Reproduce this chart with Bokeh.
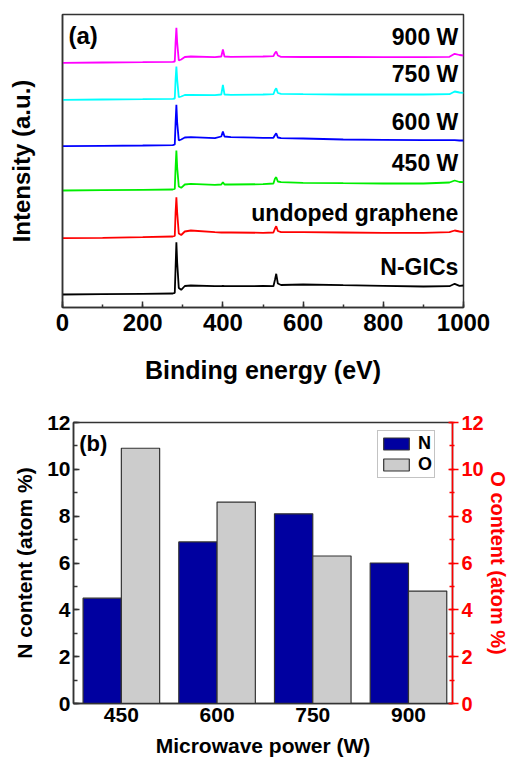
from bokeh.plotting import figure
from bokeh.layouts import column, row
from bokeh.models import (Range1d, LinearAxis, FixedTicker, SingleIntervalTicker,
                          Legend, LegendItem, Label)
from bokeh.embed import file_html
from bokeh.resources import INLINE

FONT = "Liberation Sans"

# ---------------- panel (a): XPS survey spectra ----------------
energy = [0, 100, 200, 275, 280, 282, 284, 286, 290, 296, 305, 320, 380, 396, 400, 404,
          420, 500, 526, 530, 533, 537, 545, 600, 700, 800, 900, 965, 978, 990, 1000]

ngics = [13.0, 13.3, 13.7, 14.0, 14.7, 40.0, 65.3, 45.0, 19.5, 17.7, 21.5, 22.0, 21.3, 21.3, 21.5, 21.3,
         21.3, 21.5, 21.3, 28.0, 33.7, 24.0, 22.5, 23.0, 22.3, 21.7, 21.0, 21.3, 23.7, 21.7, 22.0]
undoped = [69.3, 69.7, 70.3, 71.0, 71.5, 95.0, 110.3, 95.0, 74.0, 72.5, 76.0, 77.0, 75.3, 75.0, 75.0, 75.0,
           75.0, 74.7, 75.0, 79.0, 81.3, 76.5, 75.3, 75.3, 75.0, 74.7, 74.7, 75.3, 77.0, 76.0, 75.3]
w450 = [117.0, 117.3, 117.7, 118.0, 118.5, 140.0, 157.0, 140.0, 121.0, 119.7, 123.0, 123.7, 122.7, 123.0, 125.3, 123.0,
        123.0, 123.3, 124.0, 129.0, 130.3, 126.0, 125.3, 124.7, 124.3, 124.0, 124.0, 125.0, 127.0, 125.5, 125.3]
w600 = [161.3, 161.7, 162.0, 162.3, 163.0, 185.0, 202.7, 185.0, 167.0, 168.0, 170.0, 170.3, 169.3, 171.0, 176.0, 171.0,
        170.3, 169.7, 169.7, 172.5, 174.3, 170.0, 169.3, 169.0, 168.0, 167.7, 167.3, 167.3, 167.3, 167.0, 167.0]
w750 = [207.7, 208.0, 208.3, 208.7, 209.0, 228.0, 241.0, 228.0, 210.3, 211.0, 212.5, 212.7, 212.3, 213.0, 222.7, 213.0,
        212.7, 213.0, 213.3, 217.5, 219.3, 214.5, 213.7, 213.3, 213.0, 213.0, 213.0, 213.3, 216.0, 215.0, 214.7]
w900 = [244.7, 245.0, 245.3, 245.7, 246.0, 265.0, 279.7, 265.0, 247.0, 248.0, 250.5, 251.0, 250.3, 251.0, 258.0, 251.0,
        250.7, 251.0, 251.3, 254.5, 256.0, 252.0, 250.7, 250.5, 250.7, 250.3, 250.3, 250.7, 253.7, 252.5, 252.0]

spectra = [ngics, undoped, w450, w600, w750, w900]
spectra_names = ["N-GICs", "undoped graphene", "450 W", "600 W", "750 W", "900 W"]
spectra_colors = ["#000000", "#FF0000", "#00EE00", "#0000FF", "#00FFFF", "#FF00FF"]

# ---------------- panel (b): N / O content ----------------
powers = ["450", "600", "750", "900"]
n_content = [4.5, 6.9, 8.1, 6.0]
o_content = [10.9, 8.6, 6.3, 4.8]

DARK = "#333333"
RED = "#FF0000"

# ===== figure (a) =====
p1 = figure(width=511, height=404, x_range=Range1d(0, 1000), y_range=Range1d(0, 293),
            output_backend="svg", toolbar_location=None,
            min_border_left=62, min_border_right=48, min_border_top=14, min_border_bottom=97)
p1.xgrid.visible = False
p1.ygrid.visible = False
p1.outline_line_color = DARK
p1.outline_line_width = 1.5
p1.background_fill_color = "white"
p1.border_fill_color = "white"

for ys, col, name in zip(spectra, spectra_colors, spectra_names):
    p1.line(energy, ys, line_color=col, line_width=1.8)
    p1.add_layout(Label(x=987, y=ys[-1], y_offset=19, text=name, text_align="right",
                        text_baseline="middle", text_font=FONT, text_font_size="23px",
                        text_font_style="bold", text_color="black"))

p1.add_layout(Label(x=15, y=272, text="(a)", text_align="left", text_baseline="middle",
                    text_font=FONT, text_font_size="24px", text_font_style="bold",
                    text_color="black"))

xa = p1.xaxis[0]
xa.ticker = SingleIntervalTicker(interval=200, num_minor_ticks=2)
xa.major_tick_in = 6
xa.major_tick_out = 0
xa.minor_tick_in = 3
xa.minor_tick_out = 0
xa.major_tick_line_color = DARK
xa.minor_tick_line_color = DARK
xa.major_tick_line_width = 1.5
xa.minor_tick_line_width = 1.5
xa.axis_line_color = DARK
xa.axis_line_width = 1.5
xa.major_label_text_font = FONT
xa.major_label_text_font_size = "24px"
xa.major_label_text_font_style = "bold"
xa.major_label_text_color = "black"
xa.major_label_standoff = 6
xa.axis_label = "Binding energy (eV)"
xa.axis_label_text_font = FONT
xa.axis_label_text_font_size = "25px"
xa.axis_label_text_font_style = "bold"
xa.axis_label_text_color = "black"
xa.axis_label_standoff = 22

ya = p1.yaxis[0]
ya.ticker = FixedTicker(ticks=[])
ya.major_tick_in = 0
ya.major_tick_out = 0
ya.minor_tick_in = 0
ya.minor_tick_out = 0
ya.major_label_text_font_size = "0px"
ya.major_label_standoff = 0
ya.axis_line_color = DARK
ya.axis_line_width = 1.5
ya.axis_label = "Intensity (a.u.)"
ya.axis_label_text_font = FONT
ya.axis_label_text_font_size = "24px"
ya.axis_label_text_font_style = "bold"
ya.axis_label_text_color = "black"
ya.axis_label_standoff = 28

# ===== figure (b) =====
xpos = list(range(1, len(powers) + 1))
p2 = figure(width=511, height=361, x_range=Range1d(0.5, 4.46), y_range=Range1d(0, 12),
            output_backend="svg", toolbar_location=None,
            min_border_left=73, min_border_right=58, min_border_top=18, min_border_bottom=62)
p2.extra_y_ranges = {"o": Range1d(0, 12)}
p2.xgrid.visible = False
p2.ygrid.visible = False
p2.outline_line_color = DARK
p2.outline_line_width = 1.5
p2.background_fill_color = "white"
p2.border_fill_color = "white"

rN = p2.vbar(x=[x - 0.2 for x in xpos], top=n_content, width=0.4, fill_color="#0000A0",
             line_color=DARK, line_width=1.2)
rO = p2.vbar(x=[x + 0.2 for x in xpos], top=o_content, width=0.4, fill_color="#CCCCCC",
             line_color=DARK, line_width=1.2, y_range_name="o")

p2.add_layout(Label(x=0.56, y=11.1, text="(b)", text_align="left", text_baseline="middle",
                    text_font=FONT, text_font_size="22px", text_font_style="bold",
                    text_color="black"))

bx = p2.xaxis[0]
bx.ticker = FixedTicker(ticks=xpos)
bx.major_label_overrides = {x: lab for x, lab in zip(xpos, powers)}
bx.major_tick_in = 0
bx.major_tick_out = 0
bx.minor_tick_in = 0
bx.minor_tick_out = 0
bx.axis_line_color = DARK
bx.axis_line_width = 1.5
bx.major_label_text_font = FONT
bx.major_label_text_font_size = "21px"
bx.major_label_text_font_style = "bold"
bx.major_label_text_color = "black"
bx.major_label_standoff = 4
bx.axis_label = "Microwave power (W)"
bx.axis_label_text_font = FONT
bx.axis_label_text_font_size = "21px"
bx.axis_label_text_font_style = "bold"
bx.axis_label_text_color = "black"
bx.axis_label_standoff = 9

by = p2.yaxis[0]
by.ticker = SingleIntervalTicker(interval=2, num_minor_ticks=2)
by.major_tick_in = 6
by.major_tick_out = 0
by.minor_tick_in = 4
by.minor_tick_out = 0
by.major_tick_line_color = DARK
by.minor_tick_line_color = DARK
by.major_tick_line_width = 1.5
by.minor_tick_line_width = 1.5
by.axis_line_color = DARK
by.axis_line_width = 1.5
by.major_label_text_font = FONT
by.major_label_text_font_size = "21px"
by.major_label_text_font_style = "bold"
by.major_label_text_color = "black"
by.major_label_standoff = 3
by.axis_label = "N content (atom %)"
by.axis_label_text_font = FONT
by.axis_label_text_font_size = "21px"
by.axis_label_text_font_style = "bold"
by.axis_label_text_color = "black"
by.axis_label_standoff = 8

ra = LinearAxis(y_range_name="o")
ra.ticker = SingleIntervalTicker(interval=2, num_minor_ticks=2)
ra.major_tick_in = 4
ra.major_tick_out = 6
ra.minor_tick_in = 3
ra.minor_tick_out = 2
ra.major_tick_line_color = RED
ra.minor_tick_line_color = RED
ra.major_tick_line_width = 1.5
ra.minor_tick_line_width = 1.5
ra.axis_line_color = RED
ra.axis_line_width = 1.5
ra.major_label_text_font = FONT
ra.major_label_text_font_size = "20px"
ra.major_label_text_font_style = "bold"
ra.major_label_text_color = RED
ra.major_label_standoff = 3
ra.axis_label = "O content (atom %)"
ra.axis_label_text_font = FONT
ra.axis_label_text_font_size = "20px"
ra.axis_label_text_font_style = "bold"
ra.axis_label_text_color = RED
ra.axis_label_standoff = 0
p2.add_layout(ra, "right")

legend = Legend(items=[LegendItem(label="N", renderers=[rN]),
                       LegendItem(label="O", renderers=[rO])],
                location=(304, 225), orientation="vertical",
                label_text_font=FONT, label_text_font_size="18px",
                label_text_font_style="bold", label_text_color="black",
                glyph_width=32, glyph_height=15, label_standoff=6,
                label_height=15, label_width=10,
                spacing=0, padding=2, margin=0,
                border_line_color="#888888", border_line_width=1.5,
                background_fill_color="white", background_fill_alpha=1.0)
p2.add_layout(legend)

layout = column(row(p1), row(p2), spacing=0)
open("out.html", "w").write(file_html(layout, INLINE))
